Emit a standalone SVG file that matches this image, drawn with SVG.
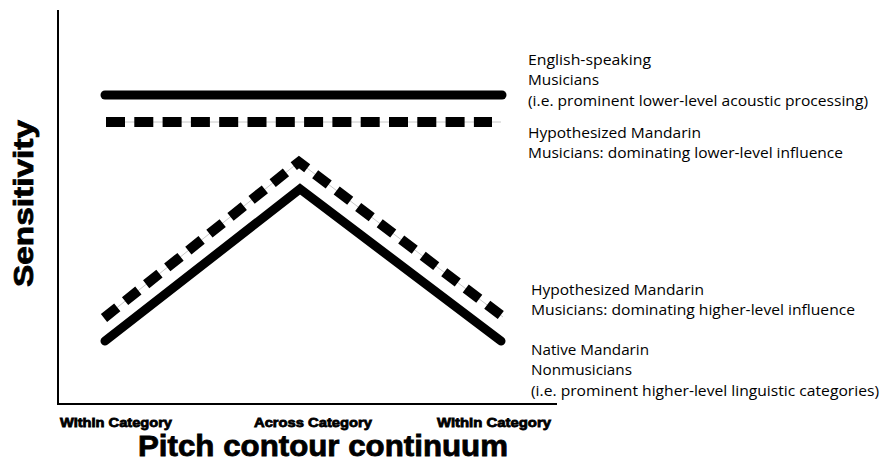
<svg xmlns="http://www.w3.org/2000/svg" width="881" height="463" viewBox="0 0 881 463">
<style>
.axis{stroke:#000;stroke-width:2;fill:none}
.solid{stroke:#000;stroke-width:9;fill:none;stroke-linecap:round;stroke-linejoin:miter}
.guide{stroke:#c8c8c8;stroke-width:1;fill:none}
.dash{stroke:#000;stroke-width:10;fill:none;stroke-dasharray:19 9.3}
.dashc{stroke:#000;stroke-width:10;fill:none;stroke-dasharray:17 10}
.blk{font-family:"Liberation Sans",Arial,sans-serif;font-weight:bold;fill:#000;stroke:#000;stroke-width:0.8}
.lbl{font-family:"Open Sans","Noto Sans",sans-serif;font-size:14px;fill:#000}
</style>
<rect width="881" height="463" fill="#fff"/>
<g id="axes">
<polyline class="axis" points="58,10 58,404 557,404"/>
</g>
<g id="connectors">
<line class="solid" x1="105" y1="95" x2="502" y2="95"/>
<line class="guide" x1="106" y1="122" x2="501" y2="122"/>
<line class="dash" x1="106" y1="122" x2="492" y2="122"/>
<polyline class="guide" points="104,318 299,162 503,317"/>
<polyline class="dashc" points="104,318 299,162 502,316"/>
<polyline class="solid" points="105,341 300,189 501,341"/>
</g>
<g id="yaxis-label">
<text class="blk" transform="translate(33,287) rotate(-90)" font-size="28" stroke-width="1" textLength="167" lengthAdjust="spacingAndGlyphs">Sensitivity</text>
</g>
<g id="x-ticks">
<text class="blk" x="60" y="427" font-size="13" textLength="112" lengthAdjust="spacingAndGlyphs">Within Category</text>
<text class="blk" x="254" y="427" font-size="13" textLength="118" lengthAdjust="spacingAndGlyphs">Across Category</text>
<text class="blk" x="437" y="427" font-size="13" textLength="114" lengthAdjust="spacingAndGlyphs">Within Category</text>
</g>
<g id="xaxis-label">
<text class="blk" x="138" y="456" font-size="30" stroke-width="1.3" textLength="370" lengthAdjust="spacingAndGlyphs">Pitch contour continuum</text>
</g>
<g id="legend-english">
<text class="lbl" x="528" y="65" textLength="123" lengthAdjust="spacingAndGlyphs">English-speaking</text>
<text class="lbl" x="528" y="85" textLength="71" lengthAdjust="spacingAndGlyphs">Musicians</text>
<text class="lbl" x="528" y="106" textLength="340" lengthAdjust="spacingAndGlyphs">(i.e. prominent lower-level acoustic processing)</text>
</g>
<g id="legend-hyp-lower">
<text class="lbl" x="528" y="138" textLength="173" lengthAdjust="spacingAndGlyphs">Hypothesized Mandarin</text>
<text class="lbl" x="528" y="158" textLength="315" lengthAdjust="spacingAndGlyphs">Musicians: dominating lower-level influence</text>
</g>
<g id="legend-hyp-higher">
<text class="lbl" x="531" y="295" textLength="173" lengthAdjust="spacingAndGlyphs">Hypothesized Mandarin</text>
<text class="lbl" x="531" y="315" textLength="324" lengthAdjust="spacingAndGlyphs">Musicians: dominating higher-level influence</text>
</g>
<g id="legend-native">
<text class="lbl" x="531" y="355" textLength="118" lengthAdjust="spacingAndGlyphs">Native Mandarin</text>
<text class="lbl" x="531" y="375" textLength="101" lengthAdjust="spacingAndGlyphs">Nonmusicians</text>
<text class="lbl" x="531" y="396" textLength="348" lengthAdjust="spacingAndGlyphs">(i.e. prominent higher-level linguistic categories)</text>
</g>
</svg>
